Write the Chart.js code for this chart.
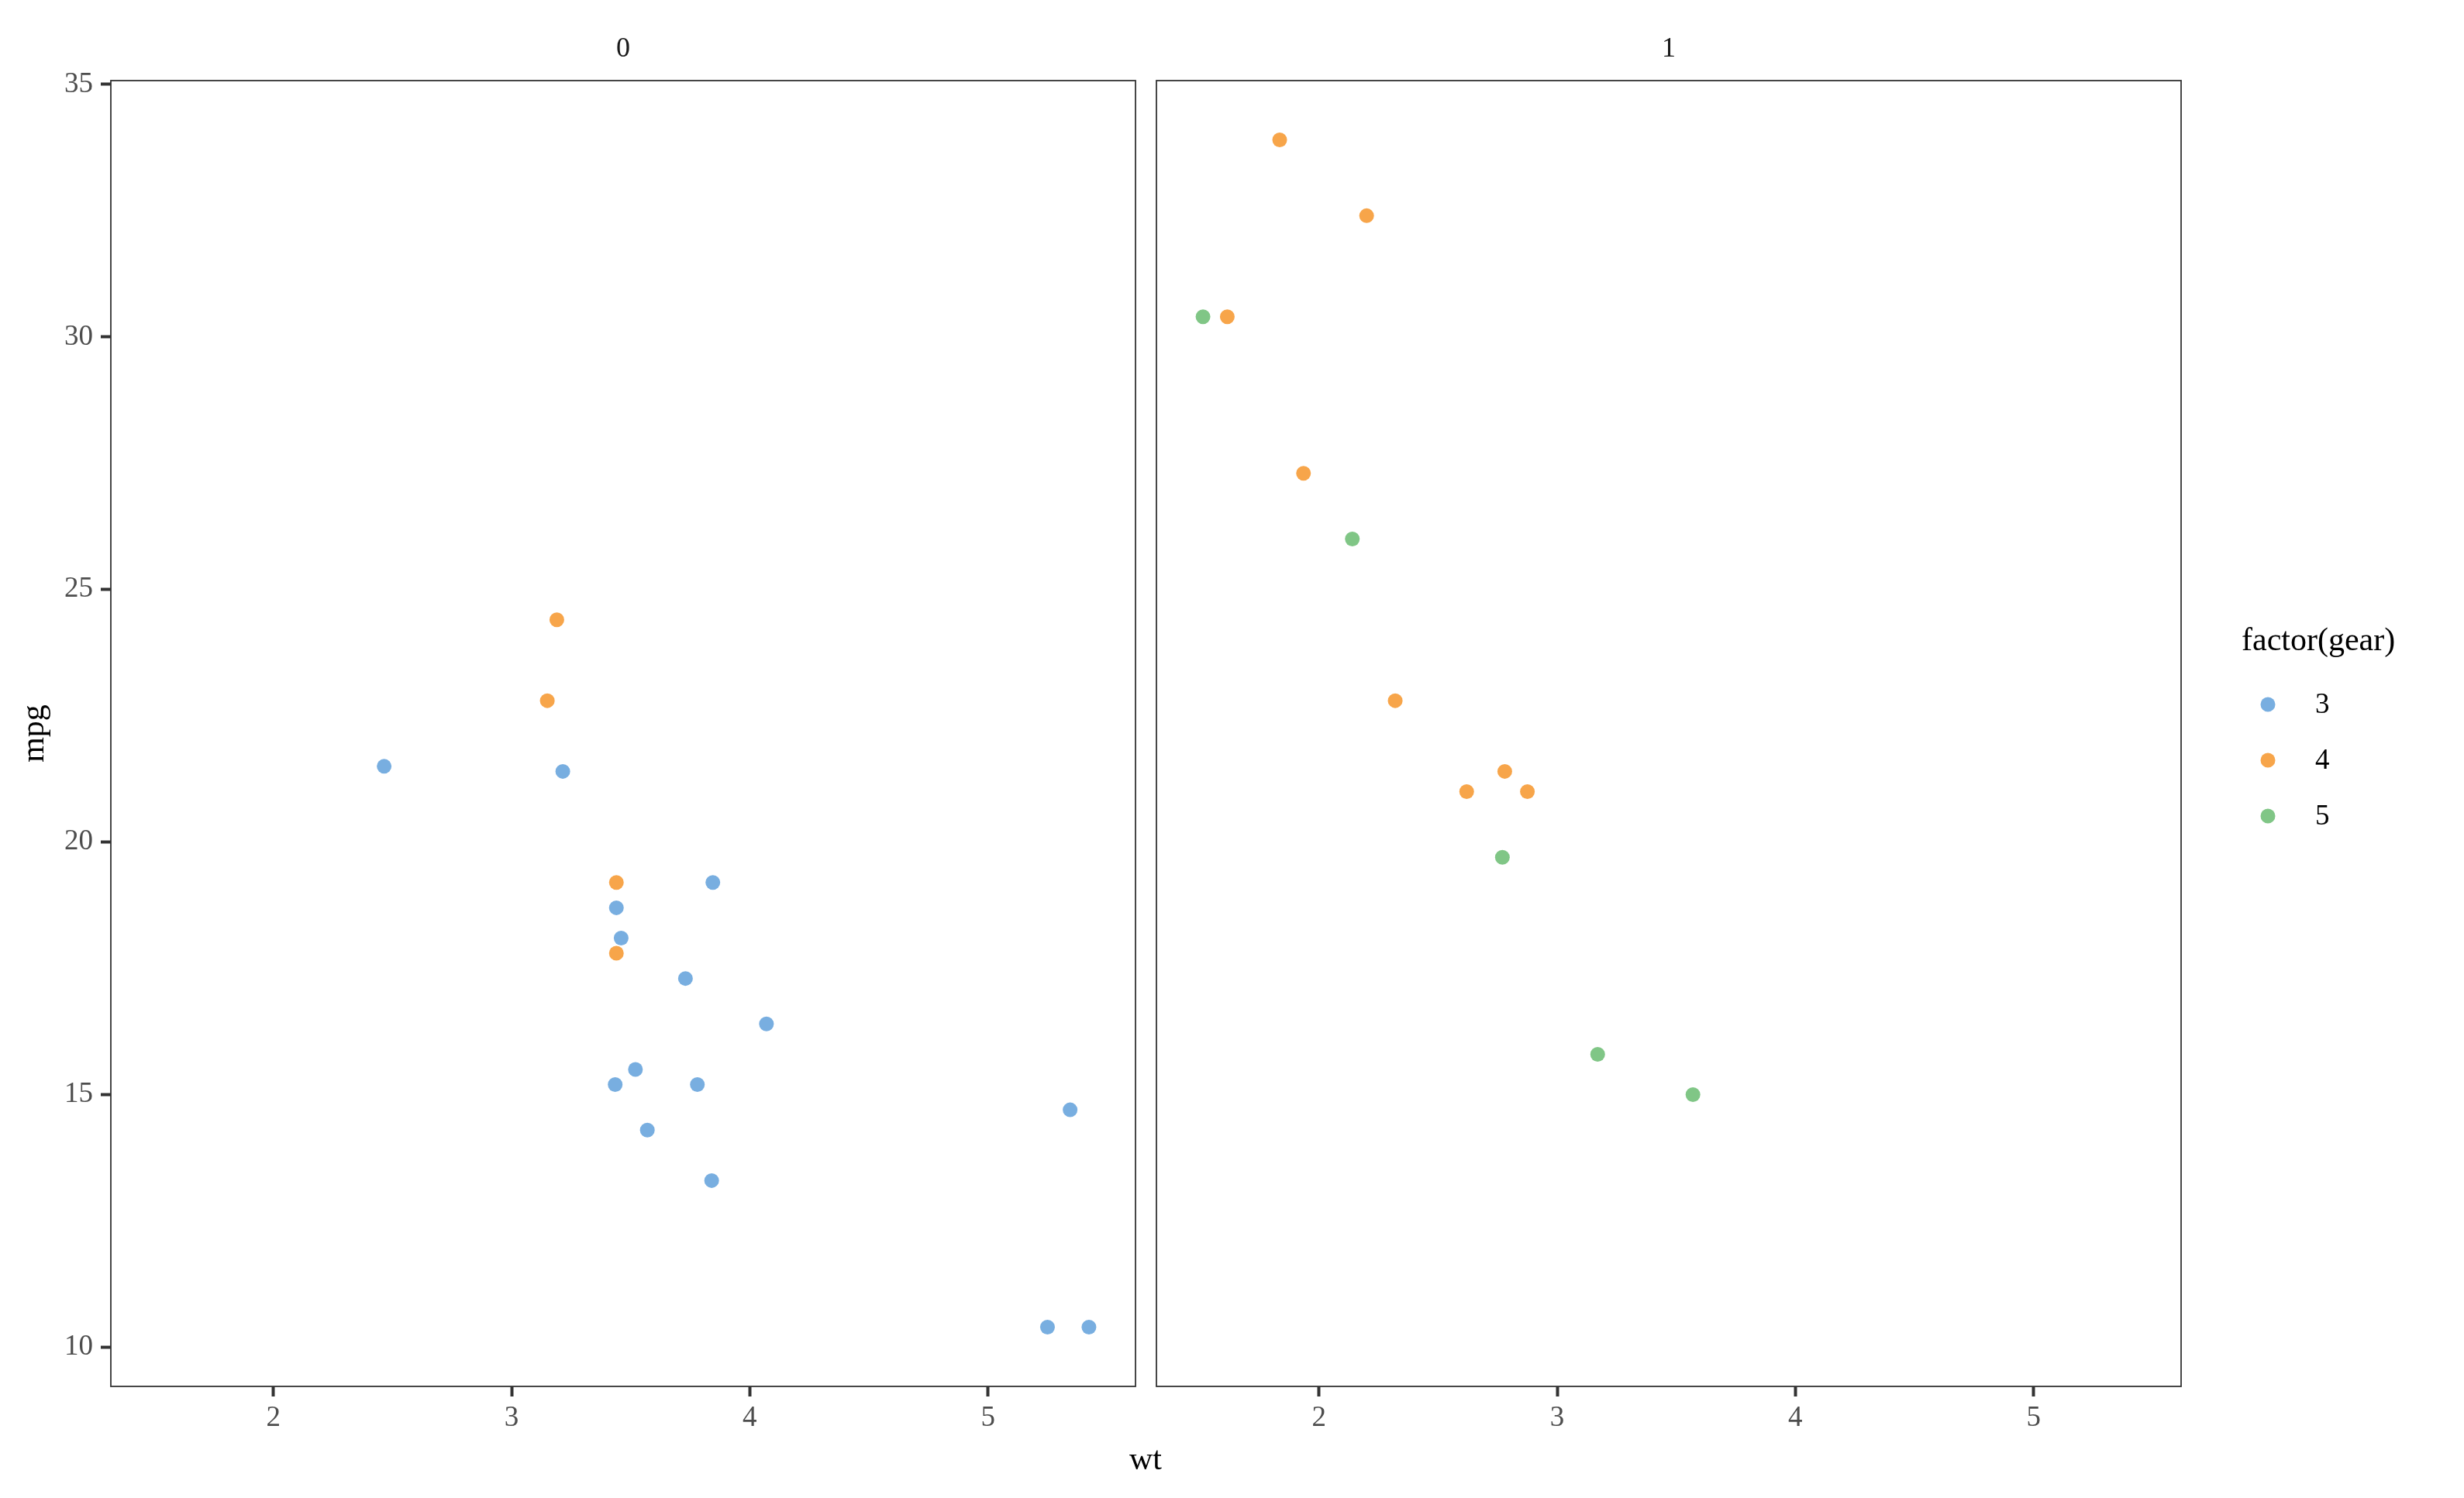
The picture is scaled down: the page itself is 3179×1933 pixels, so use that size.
<!DOCTYPE html>
<html>
<head>
<meta charset="utf-8">
<script src="https://cdn.jsdelivr.net/npm/chart.js@4.4.1/dist/chart.umd.min.js"></script>
<style>
  html, body { margin: 0; padding: 0; background: #fff; }
  #wrap { position: relative; width: 3179px; height: 1933px; }
  #wrap canvas { position: absolute; left: 0; top: 0; }
</style>
</head>
<body>
<div id="wrap">
  <canvas id="panel-0" width="3179" height="1933"></canvas>
  <canvas id="panel-1" width="3179" height="1933"></canvas>
</div>
<script>
// mtcars: weight, mpg, transmission (am) and gears
const wt = [2.620, 2.875, 2.320, 3.215, 3.440, 3.460, 3.570, 3.190, 3.150, 3.440, 3.440,
  4.070, 3.730, 3.780, 5.250, 5.424, 5.345, 2.200, 1.615, 1.835, 2.465, 3.520, 3.435,
  3.840, 3.845, 1.935, 2.140, 1.513, 3.170, 2.770, 3.570, 2.780];
const mpg = [21.0, 21.0, 22.8, 21.4, 18.7, 18.1, 14.3, 24.4, 22.8, 19.2, 17.8,
  16.4, 17.3, 15.2, 10.4, 10.4, 14.7, 32.4, 30.4, 33.9, 21.5, 15.5, 15.2,
  13.3, 19.2, 27.3, 26.0, 30.4, 15.8, 19.7, 15.0, 21.4];
const am = [1, 1, 1, 0, 0, 0, 0, 0, 0, 0, 0, 0, 0, 0, 0, 0, 0, 1, 1, 1, 0, 0, 0,
  0, 0, 1, 1, 1, 1, 1, 1, 1];
const gear = [4, 4, 4, 3, 3, 3, 3, 4, 4, 4, 4, 3, 3, 3, 3, 3, 3, 4, 4, 4, 3, 3, 3,
  3, 3, 4, 5, 5, 5, 5, 5, 4];

const gears = [3, 4, 5];
const gearColors = ["#78AEE0", "#F7A54A", "#80C686"];
const panels = [0, 1];
const xTicks = [2, 3, 4, 5];
const yTicks = [10, 15, 20, 25, 30, 35];

const FONT = "'Liberation Serif', 'DejaVu Serif', serif";
const TICK_COLOR = "#4d4d4d";
const LINE_COLOR = "#333333";

function datasetsFor(panel) {
  return gears.map((g, i) => ({
    label: String(g),
    data: wt
      .map((w, k) => ({ x: w, y: mpg[k], am: am[k], gear: gear[k] }))
      .filter((p) => p.am === panel && p.gear === g),
    backgroundColor: gearColors[i],
    borderWidth: 0,
    pointRadius: 9.5,
    pointHoverRadius: 9.5,
  }));
}

// panel frame + strip label
function panelPlugin(label) {
  return {
    id: "panelFrame",
    afterDatasetsDraw(chart) {
      const { ctx, chartArea: a } = chart;
      ctx.save();
      ctx.strokeStyle = LINE_COLOR;
      ctx.lineWidth = 1.8;
      ctx.strokeRect(a.left, a.top, a.right - a.left, a.bottom - a.top);
      ctx.fillStyle = "#1a1a1a";
      ctx.font = `36px ${FONT}`;
      ctx.textAlign = "center";
      ctx.textBaseline = "middle";
      ctx.fillText(label, (a.left + a.right) / 2, 64);
      ctx.restore();
    },
  };
}

// shared x title and the colour legend
const figurePlugin = {
  id: "figureExtras",
  afterDraw(chart) {
    const ctx = chart.ctx;
    ctx.save();
    ctx.fillStyle = "#000";
    ctx.textBaseline = "middle";
    ctx.textAlign = "center";
    ctx.font = `42px ${FONT}`;
    ctx.fillText("wt", 1478, 1885);

    ctx.textAlign = "left";
    ctx.fillText("factor(gear)", 2892, 828);
    ctx.font = `37px ${FONT}`;
    chart.data.datasets.forEach((ds, i) => {
      const y = 909 + i * 72;
      ctx.fillStyle = ds.backgroundColor;
      ctx.beginPath();
      ctx.arc(2926, y, 9.5, 0, Math.PI * 2);
      ctx.fill();
      ctx.fillStyle = "#000";
      ctx.fillText(ds.label, 2987, y + 1);
    });
    ctx.restore();
  },
};

function makeChart(panel) {
  const ctx = document.getElementById(`panel-${panel}`).getContext("2d");
  const left = panel === 0 ? 0 : 1492;
  const right = panel === 0 ? 3179 - 1465 : 3179 - 2814;
  return new Chart(ctx, {
    type: "scatter",
    data: { datasets: datasetsFor(panel) },
    options: {
      responsive: false,
      animation: false,
      devicePixelRatio: 1,
      layout: { padding: { left: left, right: right, top: 104, bottom: 0 } },
      plugins: { legend: { display: false }, tooltip: { enabled: false } },
      scales: {
        x: {
          type: "linear",
          min: 1.3175,
          max: 5.6195,
          afterFit: (s) => { s.height = 144; },
          afterBuildTicks: (s) => { s.ticks = xTicks.map((v) => ({ value: v })); },
          border: { display: false },
          grid: {
            drawOnChartArea: false,
            drawTicks: true,
            tickLength: 13,
            tickWidth: 4,
            tickColor: LINE_COLOR,
          },
          ticks: { color: TICK_COLOR, font: { family: FONT, size: 37 }, padding: 6, maxRotation: 0 },
        },
        y: {
          type: "linear",
          display: panel === 0,
          min: 9.225,
          max: 35.075,
          afterFit: (s) => { s.width = panel === 0 ? 143 : 0; },
          afterBuildTicks: (s) => { s.ticks = yTicks.map((v) => ({ value: v })); },
          border: { display: false },
          grid: {
            drawOnChartArea: false,
            drawTicks: true,
            tickLength: 13,
            tickWidth: 4,
            tickColor: LINE_COLOR,
          },
          ticks: { color: TICK_COLOR, font: { family: FONT, size: 37 }, padding: 10 },
          title: {
            display: true,
            text: "mpg",
            color: "#000",
            font: { family: FONT, size: 42 },
            padding: { top: 20, bottom: 0 },
          },
        },
      },
    },
    plugins: panel === 1 ? [panelPlugin(String(panel)), figurePlugin] : [panelPlugin(String(panel))],
  });
}

panels.forEach(makeChart);
</script>
</body>
</html>
